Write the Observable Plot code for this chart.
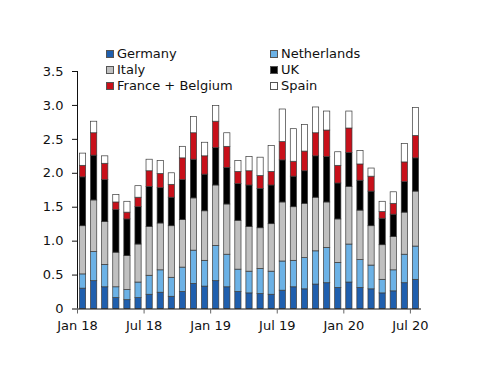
<!DOCTYPE html>
<html>
<head>
<meta charset="utf-8">
<script src="https://cdn.jsdelivr.net/npm/d3@7"></script>
<script src="https://cdn.jsdelivr.net/npm/@observablehq/plot@0.6"></script>
<style>
  html, body { margin: 0; padding: 0; background: #fff; }
  #wrap { position: relative; width: 500px; height: 386px; font-family: "DejaVu Sans", sans-serif; }
  #legend { position: absolute; left: 106px; top: 45.5px; font-size: 13px; line-height: 16px; color: #111; }
  .item { position: absolute; white-space: nowrap; display: flex; align-items: center; }
  .sw { width: 8px; height: 8px; border: 1px solid #555; box-sizing: border-box; margin-right: 3px; }
</style>
</head>
<body>
<div id="wrap"><div id="legend"></div></div>
<script>
const months = ["Jan 18","Feb 18","Mar 18","Apr 18","May 18","Jun 18","Jul 18","Aug 18","Sep 18","Oct 18","Nov 18","Dec 18",
  "Jan 19","Feb 19","Mar 19","Apr 19","May 19","Jun 19","Jul 19","Aug 19","Sep 19","Oct 19","Nov 19","Dec 19",
  "Jan 20","Feb 20","Mar 20","Apr 20","May 20","Jun 20","Jul 20"];
const tickLabels = ["Jan 18","Jul 18","Jan 19","Jul 19","Jan 20","Jul 20"];
const seriesNames = ["Germany","Netherlands","Italy","UK","France + Belgium","Spain"];
const germany     = [0.30,0.41,0.32,0.16,0.13,0.16,0.21,0.24,0.18,0.25,0.37,0.33,0.41,0.32,0.25,0.23,0.22,0.21,0.27,0.32,0.29,0.36,0.38,0.31,0.39,0.31,0.29,0.23,0.26,0.38,0.43];
const netherlands = [0.21,0.43,0.33,0.16,0.15,0.23,0.28,0.33,0.28,0.36,0.49,0.38,0.52,0.48,0.33,0.32,0.37,0.34,0.43,0.39,0.46,0.49,0.52,0.37,0.56,0.41,0.35,0.20,0.31,0.42,0.49];
const italy       = [0.71,0.76,0.63,0.51,0.50,0.56,0.72,0.69,0.76,0.70,0.77,0.73,0.89,0.74,0.72,0.66,0.60,0.70,0.87,0.79,0.80,0.79,0.67,0.64,0.85,0.73,0.58,0.51,0.49,0.62,0.81];
const uk          = [0.72,0.66,0.62,0.63,0.54,0.55,0.59,0.52,0.42,0.59,0.57,0.54,0.55,0.54,0.54,0.61,0.58,0.57,0.62,0.45,0.48,0.61,0.67,0.53,0.50,0.44,0.51,0.39,0.33,0.45,0.49];
const franceBelgium = [0.17,0.33,0.24,0.11,0.10,0.14,0.23,0.21,0.19,0.32,0.39,0.27,0.39,0.31,0.18,0.21,0.19,0.20,0.27,0.22,0.29,0.34,0.39,0.26,0.36,0.24,0.22,0.10,0.16,0.29,0.33];
const spain       = [0.18,0.17,0.11,0.11,0.16,0.17,0.17,0.19,0.17,0.17,0.24,0.20,0.23,0.20,0.16,0.21,0.27,0.38,0.48,0.48,0.39,0.38,0.28,0.20,0.25,0.20,0.12,0.15,0.17,0.27,0.41];
const yTicks = [0,0.5,1,1.5,2,2.5,3,3.5];

const seriesValues = [germany, netherlands, italy, uk, franceBelgium, spain];
const colors = ["#1f5fae","#6cb2e6","#c0c0c0","#000000","#c8101a","#ffffff"];

// Build stacked rows
const rows = [];
months.forEach((m, i) => {
  let base = 0;
  seriesNames.forEach((s, k) => {
    const v = seriesValues[k][i];
    rows.push({i, month: m, series: s, y1: base, y2: base + v});
    base += v;
  });
});
const tickIdx = tickLabels.map(t => months.indexOf(t));

const chart = Plot.plot({
  width: 500, height: 386,
  marginLeft: 77, marginRight: 79, marginTop: 71, marginBottom: 77.5,
  style: {fontFamily: "DejaVu Sans, sans-serif", fontSize: "13px", color: "#111", background: "transparent"},
  x: {domain: [0, months.length], axis: null},
  y: {domain: [0, 3.5], axis: null},
  color: {domain: seriesNames, range: colors},
  marks: [
    Plot.rect(rows, {x1: d => d.i + 0.22, x2: d => d.i + 0.78, y1: "y1", y2: "y2", fill: "series", stroke: "#3a3a3a", strokeWidth: 0.7}),
    Plot.ruleX([0], {stroke: "#111"}),
    Plot.ruleY([0], {stroke: "#111"}),
    Plot.axisY({ticks: yTicks, tickFormat: d => d === 0 ? "0" : d.toFixed(1), tickSize: 5, tickPadding: 9, stroke: "#111"}),
    Plot.axisX({ticks: tickIdx, tickFormat: i => months[i], tickSize: 5, tickPadding: 7, stroke: "#666"})
  ]
});
document.getElementById("wrap").appendChild(chart);

// Legend (HTML, overlaid)
const legend = document.getElementById("legend");
const legendPos = [[0,0],[164,0],[0,16],[164,16],[0,32],[164,32]];
seriesNames.forEach((s, k) => {
  const it = document.createElement("div");
  it.className = "item";
  it.style.left = legendPos[k][0] + "px";
  it.style.top = legendPos[k][1] + "px";
  const sw = document.createElement("span");
  sw.className = "sw";
  sw.style.background = colors[k];
  const tx = document.createElement("span");
  tx.textContent = s;
  it.appendChild(sw); it.appendChild(tx);
  legend.appendChild(it);
});
</script>
</body>
</html>
